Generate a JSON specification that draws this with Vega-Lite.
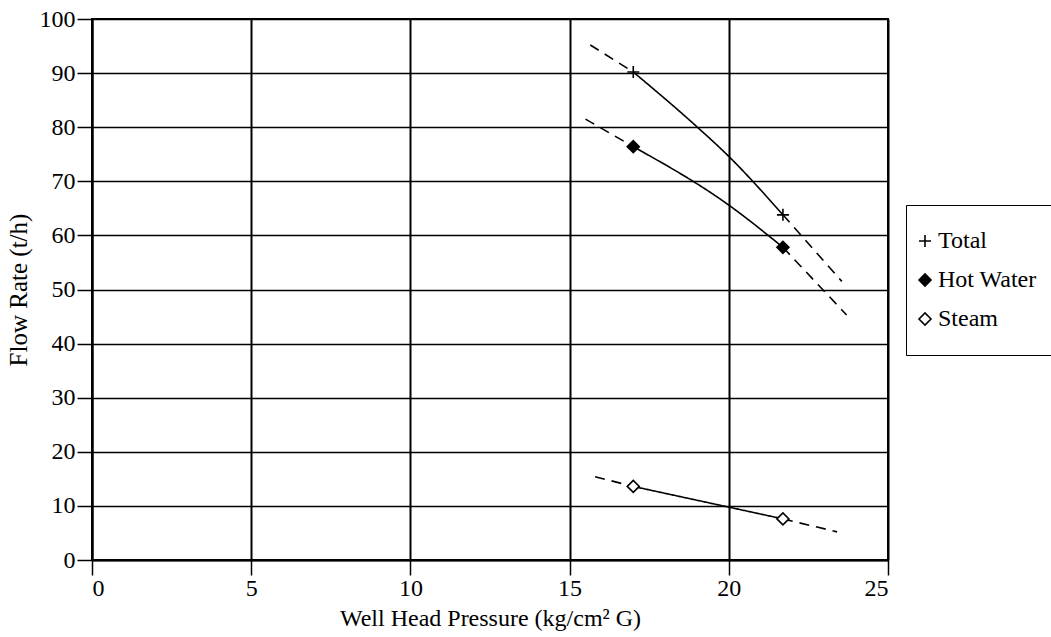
{
  "$schema": "https://vega.github.io/schema/vega-lite/v6.json",
  "width": 796,
  "height": 541,
  "autosize": {"type": "none"},
  "padding": {"left": 92, "top": 19, "right": 163, "bottom": 77},
  "background": "white",
  "config": {
    "font": "Liberation Serif",
    "view": {"stroke": "black", "strokeWidth": 2},
    "axis": {
      "domainColor": "black",
      "domainWidth": 2,
      "gridColor": "black",
      "gridOpacity": 1,
      "tickColor": "black",
      "tickWidth": 1.5,
      "tickSize": 15,
      "labelFont": "Liberation Serif",
      "labelFontSize": 24,
      "labelColor": "black",
      "titleFont": "Liberation Serif",
      "titleFontSize": 24,
      "titleFontWeight": "normal",
      "titleColor": "black"
    }
  },
  "datasets": {
    "curves": [
      {"series": "Total", "piece": "T1", "style": "dashed", "x": 15.65, "y": 95.2},
      {"series": "Total", "piece": "T1", "style": "dashed", "x": 17.0, "y": 90.2},
      {"series": "Total", "piece": "T2", "style": "solid", "x": 17.0, "y": 90.2},
      {"series": "Total", "piece": "T2", "style": "solid", "x": 18.9, "y": 80.6},
      {"series": "Total", "piece": "T2", "style": "solid", "x": 20.0, "y": 74.6},
      {"series": "Total", "piece": "T2", "style": "solid", "x": 21.7, "y": 63.8},
      {"series": "Total", "piece": "T3", "style": "dashed", "x": 21.7, "y": 63.8},
      {"series": "Total", "piece": "T3", "style": "dashed", "x": 23.55, "y": 51.5},
      {"series": "Hot Water", "piece": "H1", "style": "dashed", "x": 15.5, "y": 81.5},
      {"series": "Hot Water", "piece": "H1", "style": "dashed", "x": 17.0, "y": 76.4},
      {"series": "Hot Water", "piece": "H2", "style": "solid", "x": 17.0, "y": 76.4},
      {"series": "Hot Water", "piece": "H2", "style": "solid", "x": 20.0, "y": 65.6},
      {"series": "Hot Water", "piece": "H2", "style": "solid", "x": 21.7, "y": 57.8},
      {"series": "Hot Water", "piece": "H3", "style": "dashed", "x": 21.7, "y": 57.8},
      {"series": "Hot Water", "piece": "H3", "style": "dashed", "x": 23.7, "y": 45.3},
      {"series": "Steam", "piece": "S1", "style": "dashed", "x": 15.8, "y": 15.4},
      {"series": "Steam", "piece": "S1", "style": "dashed", "x": 17.0, "y": 13.6},
      {"series": "Steam", "piece": "S2", "style": "solid", "x": 17.0, "y": 13.6},
      {"series": "Steam", "piece": "S2", "style": "solid", "x": 21.7, "y": 7.6},
      {"series": "Steam", "piece": "S3", "style": "dashed", "x": 21.7, "y": 7.6},
      {"series": "Steam", "piece": "S3", "style": "dashed", "x": 23.4, "y": 5.2}
    ],
    "points": [
      {"series": "Total", "x": 17.0, "y": 90.2},
      {"series": "Total", "x": 21.7, "y": 63.8},
      {"series": "Hot Water", "x": 17.0, "y": 76.4},
      {"series": "Hot Water", "x": 21.7, "y": 57.8},
      {"series": "Steam", "x": 17.0, "y": 13.6},
      {"series": "Steam", "x": 21.7, "y": 7.6}
    ]
  },
  "layer": [
    {
      "data": {"name": "curves"},
      "mark": {"type": "line", "color": "black", "strokeWidth": 1.6, "interpolate": "monotone"},
      "encoding": {
        "x": {
          "field": "x", "type": "quantitative",
          "scale": {"domain": [0, 25], "nice": false},
          "axis": {"values": [0, 5, 10, 15, 20, 25], "gridWidth": 2, "labelPadding": 1, "titlePadding": 6},
          "title": "Well Head Pressure (kg/cm² G)"
        },
        "y": {
          "field": "y", "type": "quantitative",
          "scale": {"domain": [0, 100], "nice": false},
          "axis": {"values": [0, 10, 20, 30, 40, 50, 60, 70, 80, 90, 100], "gridWidth": 1.3, "labelPadding": 2, "titlePadding": 8, "titleFontSize": 25},
          "title": "Flow Rate (t/h)"
        },
        "detail": {"field": "piece"},
        "strokeDash": {
          "field": "style", "type": "nominal",
          "scale": {"domain": ["solid", "dashed"], "range": [[1, 0], [10, 7]]},
          "legend": null
        }
      }
    },
    {
      "data": {"name": "points"},
      "mark": {"type": "point", "filled": true, "strokeWidth": 1.6, "size": 144, "opacity": 1},
      "encoding": {
        "x": {"field": "x", "type": "quantitative"},
        "y": {"field": "y", "type": "quantitative"},
        "shape": {
          "field": "series", "type": "nominal",
          "scale": {"domain": ["Total", "Hot Water", "Steam"], "range": ["M-1,0L1,0M0,-1L0,1", "diamond", "diamond"]},
          "title": null,
          "legend": {
            "orient": "none",
            "legendX": 814,
            "legendY": 186,
            "strokeColor": "black",
            "fillColor": "white",
            "padding": 24,
            "rowPadding": 15,
            "labelFont": "Liberation Serif",
            "labelFontSize": 24,
            "labelColor": "black",
            "symbolOffset": -17,
            "labelOffset": 1,
            "symbolSize": 144,
            "symbolStrokeWidth": 1.6,
            "encode": {
              "legend": {"update": {"strokeWidth": {"value": 1.5}}}
            }
          }
        },
        "fill": {
          "field": "series", "type": "nominal",
          "scale": {"domain": ["Total", "Hot Water", "Steam"], "range": ["black", "black", "white"]},
          "title": null
        },
        "stroke": {
          "field": "series", "type": "nominal",
          "scale": {"domain": ["Total", "Hot Water", "Steam"], "range": ["black", "black", "black"]},
          "title": null
        }
      }
    }
  ]
}
